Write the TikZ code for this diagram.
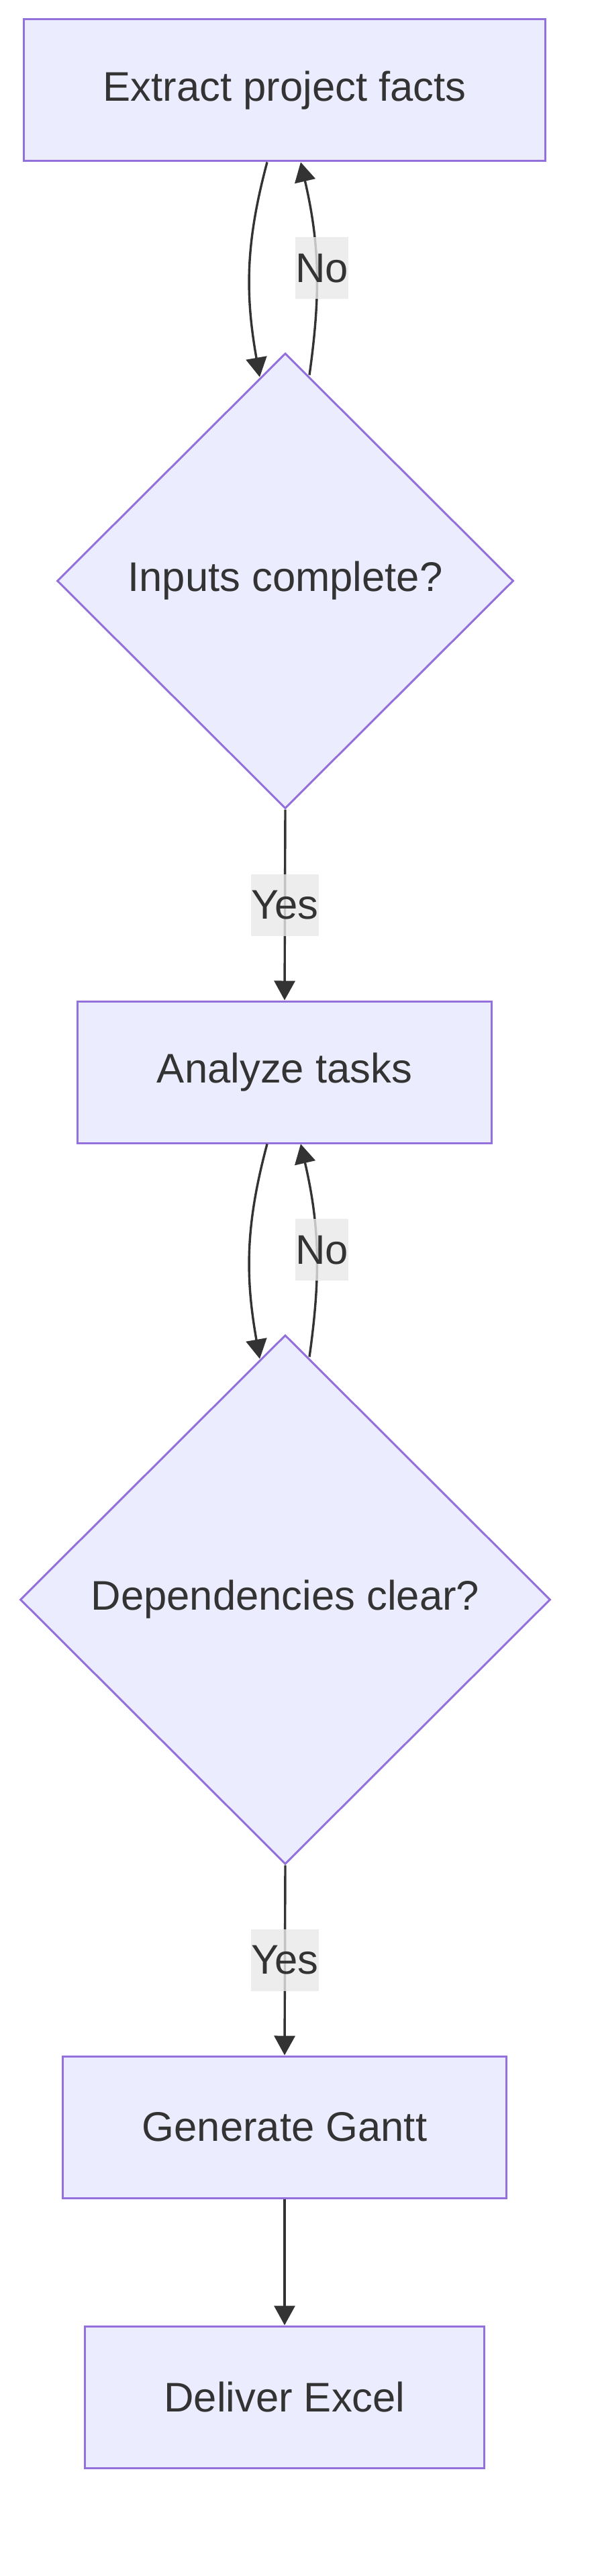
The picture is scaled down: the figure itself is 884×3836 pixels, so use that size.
\documentclass[tikz,border=0pt]{standalone}
\usepackage{fontspec}
\setmainfont{Liberation Sans}
\usepackage{tikz}
\usetikzlibrary{shapes.geometric,arrows.meta,calc}
\definecolor{nodefill}{HTML}{ECECFF}
\definecolor{nodeborder}{HTML}{9370DB}
\definecolor{linegray}{HTML}{333333}
\definecolor{labelgray}{HTML}{E8E8E8}
\newcommand{\flowfont}{\fontsize{30.8pt}{37pt}\selectfont}

\tikzset{
  procbox/.style={draw=nodeborder, fill=nodefill, line width=1.5pt, rectangle,
    minimum height=105.5pt, inner xsep=59pt, inner ysep=0pt, text=linegray, font=\flowfont},
  decision/.style={diamond, aspect=1, draw=nodeborder, fill=nodefill, line width=1.5pt,
    inner sep=0pt, text=linegray, font=\flowfont},
  flow/.style={draw=linegray, line width=1.7pt, -{Triangle[length=14.5pt,width=15.5pt]}},
  edgelabel/.style={fill=labelgray, fill opacity=0.8, text opacity=1, text=linegray,
    inner xsep=0pt, inner ysep=0pt, minimum height=46pt, font=\flowfont}
}

\begin{document}
\begin{tikzpicture}[x=0.5pt, y=-0.5pt]
    \useasboundingbox (0, 0) rectangle (884, 3836);
    % Steps and checks, top to bottom
    \node[procbox] (extract) at (424, 134.5) {Extract project facts};
    \node[decision, minimum width=340pt, minimum height=339pt] (inputs) at (425, 865) {Inputs complete?};
    \node[procbox] (analyze) at (424, 1596.5) {Analyze tasks};
    \node[decision, minimum width=395pt, minimum height=394pt] (deps) at (425, 2382) {Dependencies clear?};
    \node[procbox] (gantt) at (424, 3167.5) {Generate Gantt};
    \node[procbox] (deliver) at (424, 3569.5) {Deliver Excel};
    % Loop: facts <-> inputs check
    \draw[flow] ([xshift=-13pt]extract.south) to[out=-105, in=100] ([xshift=-19pt, yshift=-18.5pt]inputs.north);
    \draw[flow] ([xshift=18pt, yshift=-17pt]inputs.north) to[out=82, in=-77]
      node[edgelabel, pos=0.5, xshift=4pt] {No} ([xshift=12pt]extract.south);
    \draw[flow] (inputs.south) -- node[edgelabel] {Yes} (analyze.north);
    % Loop: tasks <-> dependency check
    \draw[flow] ([xshift=-13pt]analyze.south) to[out=-105, in=100] ([xshift=-19pt, yshift=-18.5pt]deps.north);
    \draw[flow] ([xshift=18pt, yshift=-17pt]deps.north) to[out=82, in=-77]
      node[edgelabel, pos=0.5, xshift=4pt] {No} ([xshift=12pt]analyze.south);
    \draw[flow] (deps.south) -- node[edgelabel] {Yes} (gantt.north);
    \draw[flow] (gantt.south) -- (deliver.north);
  \end{tikzpicture}
\end{document}
